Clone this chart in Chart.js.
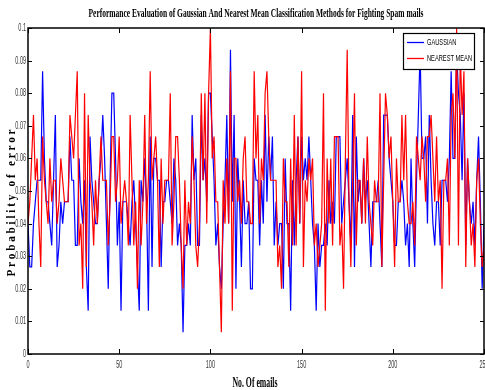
<!DOCTYPE html>
<html>
<head>
<meta charset="utf-8">
<script src="https://cdn.jsdelivr.net/npm/chart.js@4/dist/chart.umd.min.js"></script>
<style>
  html, body { margin: 0; padding: 0; background: #fff; }
  #wrap { width: 485px; height: 390px; }
</style>
</head>
<body>
<div id="wrap"><canvas id="errChart" width="485" height="390"></canvas></div>
<script>
// x axis: email number 0..250
const emailNo = Array.from({ length: 251 }, (_, i) => i);

// probability of error
const gaussianErr = [
  0.04,0.0267,0.0267,0.04,0.0467,0.0533,0.0533,0.0533,0.0867,0.06,0.0467,0.0467,0.04,0.0333,0.0533,0.0733,0.0267,0.0333,0.0467,0.04,0.0467,0.0467,0.0467,0.0667,0.0533,0.0533,0.0333,0.0333,0.06,0.0467,0.04,
  0.0533,0.0267,0.0133,0.0667,0.0533,0.0467,0.04,0.04,0.0533,0.06,0.0733,0.06,0.04,0.02,0.0533,0.08,0.08,0.06,0.0333,0.0467,0.0133,0.0467,0.0467,0.0467,0.04,0.0333,0.0467,0.0533,0.04,0.0267,0.0133,0.0533,0.0467,0.06,
  0.0467,0.0133,0.0667,0.0267,0.06,0.06,0.0533,0.0533,0.0267,0.0467,0.0467,0.0533,0.0533,0.0467,0.04,0.06,0.0533,0.0333,0.04,0.0333,0.0067,0.0333,0.0333,0.04,0.0333,0.0733,0.0533,0.06,0.0333,0.0333,0.0733,0.0533,0.06,0.0467,
  0.08,0.08,0.0667,0.0533,0.0333,0.04,0.0267,0.02,0.04,0.0533,0.0733,0.04,0.0933,0.0467,0.0733,0.02,0.06,0.0467,0.0267,0.0533,0.04,0.04,0.0467,0.02,0.02,0.06,0.0533,0.0533,0.0333,0.0533,0.04,0.0733,0.0467,
  0.0667,0.0533,0.0667,0.0333,0.0467,0.0333,0.04,0.04,0.02,0.06,0.04,0.04,0.0133,0.0533,0.0333,0.0533,0.0667,0.04,0.0667,0.0533,0.06,0.0533,0.0667,0.0533,0.04,0.0333,0.0133,0.04,0.0267,0.0333,0.0333,0.04,0.0333,
  0.0533,0.04,0.0467,0.04,0.0667,0.0667,0.0667,0.04,0.0467,0.0533,0.06,0.0467,0.0333,0.0733,0.0267,0.0667,0.0467,0.0533,0.04,0.06,0.0467,0.0533,0.04,0.0267,0.0467,0.0467,0.0467,0.0533,0.04,0.0267,0.0733,0.0733,0.0733,
  0.06,0.0533,0.0467,0.0333,0.0333,0.0467,0.0467,0.0533,0.0467,0.0333,0.04,0.0267,0.06,0.04,0.0267,0.0533,0.0733,0.0933,0.06,0.06,0.0667,0.04,0.0733,0.0533,0.04,0.0333,0.0467,0.0467,0.0333,0.0533,0.0533,
  0.0533,0.0467,0.06,0.0867,0.06,0.06,0.0933,0.08,0.0733,0.0533,0.08,0.0333,0.06,0.0467,0.04,0.0467,0.0333,0.0533,0.0667,0.0467,0.02,0.04
];
const nearestMeanErr = [
  0.04,0.0467,0.06,0.0733,0.0533,0.06,0.04,0.0267,0.0667,0.0533,0.0467,0.04,0.06,0.0467,0.0533,0.0533,0.04,0.0467,0.06,0.0533,0.0467,0.0467,0.0467,0.0733,0.0667,0.06,0.0733,0.0867,0.0333,0.04,0.02,
  0.08,0.0267,0.0733,0.0533,0.0467,0.0333,0.0533,0.04,0.0533,0.0667,0.0533,0.0533,0.0533,0.0333,0.0467,0.0667,0.0667,0.0467,0.0533,0.0667,0.04,0.0467,0.0533,0.0467,0.0333,0.0733,0.0533,0.0333,0.0467,0.02,0.0533,0.0333,0.0467,0.0733,
  0.04,0.0533,0.0867,0.0533,0.06,0.0667,0.0533,0.0267,0.06,0.04,0.0533,0.0533,0.0533,0.08,0.0333,0.0467,0.0667,0.0667,0.0533,0.0333,0.02,0.0533,0.0333,0.0467,0.04,0.0667,0.0533,0.0333,0.0267,0.04,0.08,0.0533,0.08,0.04,
  0.08,0.1,0.06,0.0667,0.0467,0.0467,0.0267,0.0067,0.0533,0.04,0.06,0.04,0.0867,0.0133,0.06,0.06,0.0467,0.0533,0.04,0.06,0.0667,0.0467,0.0467,0.04,0.04,0.0867,0.06,0.0733,0.04,0.06,0.0533,0.08,0.0867,
  0.0667,0.0533,0.0533,0.0533,0.0533,0.0267,0.0333,0.02,0.06,0.0467,0.0467,0.0267,0.06,0.0333,0.0733,0.0333,0.0667,0.04,0.0867,0.0267,0.0533,0.0467,0.06,0.0533,0.06,0.0333,0.04,0.0267,0.0333,0.04,0.08,0.0133,0.06,
  0.04,0.06,0.0333,0.0667,0.0667,0.0667,0.0333,0.04,0.02,0.06,0.0933,0.0467,0.0267,0.0533,0.08,0.0333,0.0533,0.0533,0.04,0.06,0.04,0.0667,0.0467,0.04,0.0333,0.0533,0.0467,0.0467,0.08,0.0267,0.0533,0.08,0.0733,
  0.06,0.0667,0.0467,0.0267,0.06,0.0467,0.0467,0.0733,0.0533,0.0733,0.0467,0.04,0.04,0.0467,0.0333,0.0667,0.06,0.0533,0.0667,0.06,0.0467,0.0667,0.0667,0.0733,0.06,0.0467,0.0667,0.0467,0.0533,0.02,0.0533,
  0.0533,0.06,0.0333,0.0733,0.08,0.06,0.1,0.0333,0.0933,0.0733,0.0867,0.0267,0.06,0.0467,0.0333,0.04,0.0267,0.0533,0.06,0.04,0.0267,0.0333
];

const xTickValues = [0, 50, 100, 150, 200, 250];
const yTickValues = [0, 0.01, 0.02, 0.03, 0.04, 0.05, 0.06, 0.07, 0.08, 0.09, 0.1];
const yTickLabels = ['0', '0.01', '0.02', '0.03', '0.04', '0.05', '0.06', '0.07', '0.08', '0.09', '0.1'];

const titleText = 'Performance Evaluation of Gaussian And Nearest Mean Classification Methods for Fighting Spam mails';
const xTitle = 'No. Of emails';
const yTitle = 'P r o b a b i l i t y   o f   e r r o r';

// draws squeezed text (the original uses a very narrow font)
function narrowText(ctx, text, x, y, font, sx, align) {
  ctx.save();
  ctx.font = font;
  ctx.textAlign = align || 'center';
  ctx.translate(x, y);
  ctx.scale(sx, 1);
  ctx.fillText(text, 0, 0);
  ctx.restore();
}
function fitText(ctx, text, x, y, font, width) {
  ctx.save();
  ctx.font = font;
  const sx = width / ctx.measureText(text).width;
  ctx.restore();
  narrowText(ctx, text, x, y, font, sx, 'center');
}

// matlab style frame, inward ticks, labels and legend box
const matlabFrame = {
  id: 'matlabFrame',
  afterDatasetsDraw(chart) {
    const { ctx, chartArea: a, scales } = chart;
    const xs = scales.x, ys = scales.y;
    ctx.save();
    ctx.strokeStyle = '#000';
    ctx.lineWidth = 1;
    xTickValues.forEach(v => {
      const px = Math.round(xs.getPixelForValue(v)) + 0.5;
      ctx.beginPath();
      ctx.moveTo(px, a.bottom); ctx.lineTo(px, a.bottom - 5);
      ctx.moveTo(px, a.top); ctx.lineTo(px, a.top + 5);
      ctx.stroke();
    });
    yTickValues.forEach(v => {
      const py = Math.round(ys.getPixelForValue(v)) + 0.5;
      ctx.beginPath();
      ctx.moveTo(a.left, py); ctx.lineTo(a.left + 4, py);
      ctx.moveTo(a.right, py); ctx.lineTo(a.right - 4, py);
      ctx.stroke();
    });
    ctx.lineWidth = 1.5;
    ctx.strokeRect(a.left, a.top, a.right - a.left, a.bottom - a.top);

    // tick labels
    ctx.fillStyle = '#333';
    ctx.textBaseline = 'alphabetic';
    xTickValues.forEach(v => {
      narrowText(ctx, String(v), xs.getPixelForValue(v), a.bottom + 14, '11px "Liberation Sans"', 0.5, 'center');
    });
    ctx.textBaseline = 'middle';
    yTickValues.forEach((v, i) => {
      narrowText(ctx, yTickLabels[i], a.left - 2, ys.getPixelForValue(v), '11px "Liberation Sans"', 0.5, 'right');
    });

    // titles
    ctx.fillStyle = '#000';
    ctx.textBaseline = 'alphabetic';
    fitText(ctx, titleText, 256, 17, 'bold 13px "Liberation Serif"', 335);
    fitText(ctx, xTitle, 255, 387, 'bold 14px "Liberation Serif"', 45);
    ctx.save();
    ctx.translate(15, 203);
    ctx.rotate(-Math.PI / 2);
    fitText(ctx, yTitle, 0, 0, 'bold 13px "Liberation Serif"', 147);
    ctx.restore();

    // legend
    const lx = 403.5, ly = 33.5, lw = 71, lh = 36;
    ctx.fillStyle = '#fff';
    ctx.fillRect(lx, ly, lw, lh);
    ctx.lineWidth = 1.2;
    ctx.strokeStyle = '#000';
    ctx.strokeRect(lx, ly, lw, lh);
    const entries = [['GAUSSIAN', '#0000ff', 42.5], ['NEAREST MEAN', '#ff0000', 58.5]];
    ctx.font = '9px "Liberation Sans"';
    const sx = 45 / ctx.measureText('NEAREST MEAN').width;
    entries.forEach(([txt, col, yy]) => {
      ctx.strokeStyle = col;
      ctx.lineWidth = 1.3;
      ctx.beginPath();
      ctx.moveTo(407, yy); ctx.lineTo(424, yy);
      ctx.stroke();
      ctx.fillStyle = '#000';
      ctx.textBaseline = 'middle';
      narrowText(ctx, txt, 427, yy, '9px "Liberation Sans"', sx, 'left');
    });
    ctx.restore();
  }
};

const ctx = document.getElementById('errChart').getContext('2d');
new Chart(ctx, {
  type: 'line',
  data: {
    datasets: [
      {
        label: 'NEAREST MEAN',
        data: nearestMeanErr.map((v, i) => ({ x: emailNo[i], y: v })),
        borderColor: '#ff0000',
        borderWidth: 1.2,
        pointRadius: 0,
        tension: 0,
        order: 0
      },
      {
        label: 'GAUSSIAN',
        data: gaussianErr.map((v, i) => ({ x: emailNo[i], y: v })),
        borderColor: '#0000ff',
        borderWidth: 1.2,
        pointRadius: 0,
        tension: 0,
        order: 1
      }
    ]
  },
  options: {
    responsive: false,
    animation: false,
    layout: { padding: { left: 28, right: 1, top: 28, bottom: 36 } },
    scales: {
      x: { type: 'linear', min: 0, max: 250, display: false },
      y: { min: 0, max: 0.1, display: false }
    },
    plugins: {
      legend: { display: false },
      title: { display: false },
      tooltip: { enabled: false }
    }
  },
  plugins: [matlabFrame]
});
</script>
</body>
</html>
